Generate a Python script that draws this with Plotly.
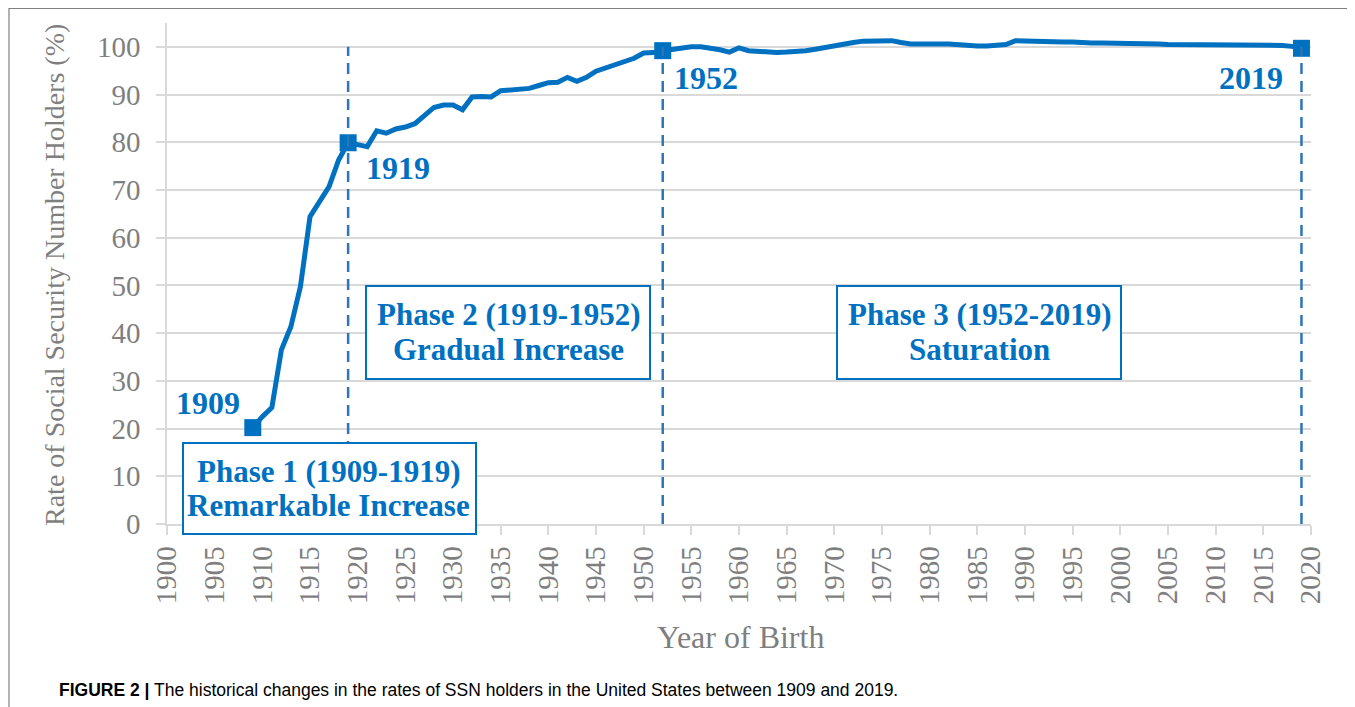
import plotly.graph_objects as go

# ---------------- data ----------------
years = list(range(1909, 2020))
rates = [
    20.2, 22.5, 24.4, 36.5, 41.4, 49.8, 64.4, 67.6, 70.7, 76.3,   # 1909-1918
    79.9, 79.5, 79.1, 82.4, 81.9, 82.8, 83.2, 83.9, 85.5, 87.3,   # 1919-1928
    87.8, 87.8, 86.8, 89.5, 89.6, 89.5, 90.8, 91.0, 91.0, 91.3,   # 1929-1938
    91.9, 92.5, 92.6, 93.6, 92.8, 93.6, 94.9, 95.6, 96.3, 96.9,   # 1939-1948
    97.6, 98.7, 98.8, 99.2, 99.5, 99.9, 100.0, 100.0, 99.8, 99.4, # 1949-1958
    98.9, 99.8, 99.2, 99.0, 98.8, 98.8, 98.9, 99.0, 99.2, 99.5,   # 1959-1968
    99.9, 100.2, 100.5, 100.9, 101.2, 101.2, 101.3, 101.3, 100.9, 100.6,  # 1969-1978
    100.6, 100.7, 100.6, 100.6, 100.4, 100.2, 100.2, 100.2, 100.3, 100.5,  # 1979-1988
    101.3, 101.2, 101.2, 101.1, 101.1, 101.0, 101.0, 100.8, 100.8, 100.8,  # 1989-1998
    100.8, 100.7, 100.7, 100.6, 100.6, 100.6, 100.5, 100.5, 100.5, 100.5,  # 1999-2008
    100.5, 100.5, 100.5, 100.5, 100.5, 100.5, 100.4, 100.4, 100.3, 100.1,  # 2009-2018
    99.7,                                                                  # 2019
]
marker_years = [1909, 1919, 1952, 2019]
phase_bounds = [1919, 1952, 2019]
x_ticks = list(range(1900, 2021, 5))
y_ticks = list(range(0, 101, 10))
phase_titles = ["Phase 1 (1909-1919)", "Phase 2 (1919-1952)", "Phase 3 (1952-2019)"]
phase_subtitles = ["Remarkable Increase", "Gradual Increase", "Saturation"]
x_title = "Year of Birth"
y_title = "Rate of Social Security Number Holders (%)"
caption_bold = "FIGURE 2 |"
caption_text = " The historical changes in the rates of SSN holders in the United States between 1909 and 2019."

# ---------------- styling / layout geometry ----------------
PAGE_W, PAGE_H = 1355, 707
OFF = 8                                # default body margin of the html page
W, H = PAGE_W - OFF, PAGE_H - OFF
PL, PR, PT, PB = 167, 1311, 23, 524    # plot area in page pixels
BLUE = "#0070C0"
DASH_BLUE = "#2E75B6"
GRAY = "#7F7F7F"
GRID = "#D9D9D9"
SERIF = "Liberation Serif, Times New Roman, serif"
SANS = "Liberation Sans, Arial, sans-serif"


def fx(p):
    return (p - PL) / (PR - PL)


def fy(p):
    return (PB - p) / (PB - PT)


rate_of = dict(zip(years, rates))

fig = go.Figure()
fig.add_trace(go.Scatter(
    x=years, y=rates, mode="lines",
    line=dict(color=BLUE, width=5),
    showlegend=False, hoverinfo="x+y",
))
fig.add_trace(go.Scatter(
    x=marker_years, y=[rate_of[y] for y in marker_years], mode="markers",
    marker=dict(symbol="square", size=17, color=BLUE),
    showlegend=False, cliponaxis=False,
))

shapes = []
for yr in phase_bounds:
    shapes.append(dict(type="line", xref="x", yref="y", x0=yr, x1=yr, y0=0, y1=100,
                       line=dict(color=DASH_BLUE, width=2.5, dash="11px,7px"), layer="above"))

boxes = [(183, 443, 476, 534), (366, 286, 650, 379), (837, 286, 1121, 379)]
text_pos = [(328, 471, 505), (508, 314, 350), (979, 314, 350)]
for (x0, y0, x1, y1) in boxes:
    shapes.append(dict(type="rect", xref="paper", yref="paper",
                       x0=fx(x0), x1=fx(x1), y0=fy(y1), y1=fy(y0),
                       line=dict(color=BLUE, width=2), fillcolor="white", layer="above"))

# outer frame
shapes.append(dict(type="rect", xref="paper", yref="paper",
                   x0=fx(9), x1=fx(1353), y0=fy(730), y1=fy(8.5),
                   line=dict(color="#808080", width=1.2), fillcolor="rgba(0,0,0,0)", layer="above"))

annotations = []
for (cx, ly1, ly2), t1, t2 in zip(text_pos, phase_titles, phase_subtitles):
    for ly, t in ((ly1, t1), (ly2, t2)):
        annotations.append(dict(x=fx(cx), y=fy(ly), xref="paper", yref="paper", text="<b>%s</b>" % t,
                                showarrow=False, xanchor="center", yanchor="middle",
                                font=dict(family=SERIF, size=31, color=BLUE)))

year_label_pos = [(208, 403), (398, 168), (706, 78), (1251, 78)]
for yr, (cx, cy) in zip(marker_years, year_label_pos):
    annotations.append(dict(x=fx(cx), y=fy(cy), xref="paper", yref="paper", text="<b>%d</b>" % yr,
                            showarrow=False, xanchor="center", yanchor="middle",
                            font=dict(family=SERIF, size=32, color=BLUE)))

annotations.append(dict(x=fx(740), y=fy(637), xref="paper", yref="paper", text=x_title,
                        showarrow=False, xanchor="center", yanchor="middle",
                        font=dict(family=SERIF, size=32, color=GRAY)))
annotations.append(dict(x=fx(54), y=fy(275), xref="paper", yref="paper", text=y_title,
                        showarrow=False, xanchor="center", yanchor="middle", textangle=-90,
                        font=dict(family=SERIF, size=28, color=GRAY)))
annotations.append(dict(x=fx(57), y=fy(690), xref="paper", yref="paper",
                        text="<b>%s</b>%s" % (caption_bold, caption_text),
                        showarrow=False, xanchor="left", yanchor="middle",
                        font=dict(family=SANS, size=17.5, color="black")))

fig.update_layout(
    width=W, height=H,
    margin=dict(l=PL - OFF, r=PAGE_W - PR, t=PT - OFF, b=PAGE_H - PB),
    paper_bgcolor="white", plot_bgcolor="white",
    shapes=shapes, annotations=annotations,
    xaxis=dict(range=[1900, 2020], tickvals=x_ticks, ticktext=[str(v) for v in x_ticks],
               tickangle=-90, ticks="outside", ticklen=9, tickwidth=1.5, tickcolor=GRID,
               showline=True, linecolor=GRID, linewidth=1.5, showgrid=False, zeroline=False,
               tickfont=dict(family=SERIF, size=29, color=GRAY), ticklabelstandoff=0),
    yaxis=dict(range=[0, 105], tickvals=y_ticks, ticktext=[str(v) for v in y_ticks],
               ticks="outside", ticklen=9, tickwidth=1.5, tickcolor=GRID,
               showline=True, linecolor=GRID, linewidth=1.5,
               showgrid=True, gridcolor=GRID, gridwidth=1.5, zeroline=False,
               tickfont=dict(family=SERIF, size=29, color=GRAY), ticklabelstandoff=10),
)

fig.write_html("out.html")
